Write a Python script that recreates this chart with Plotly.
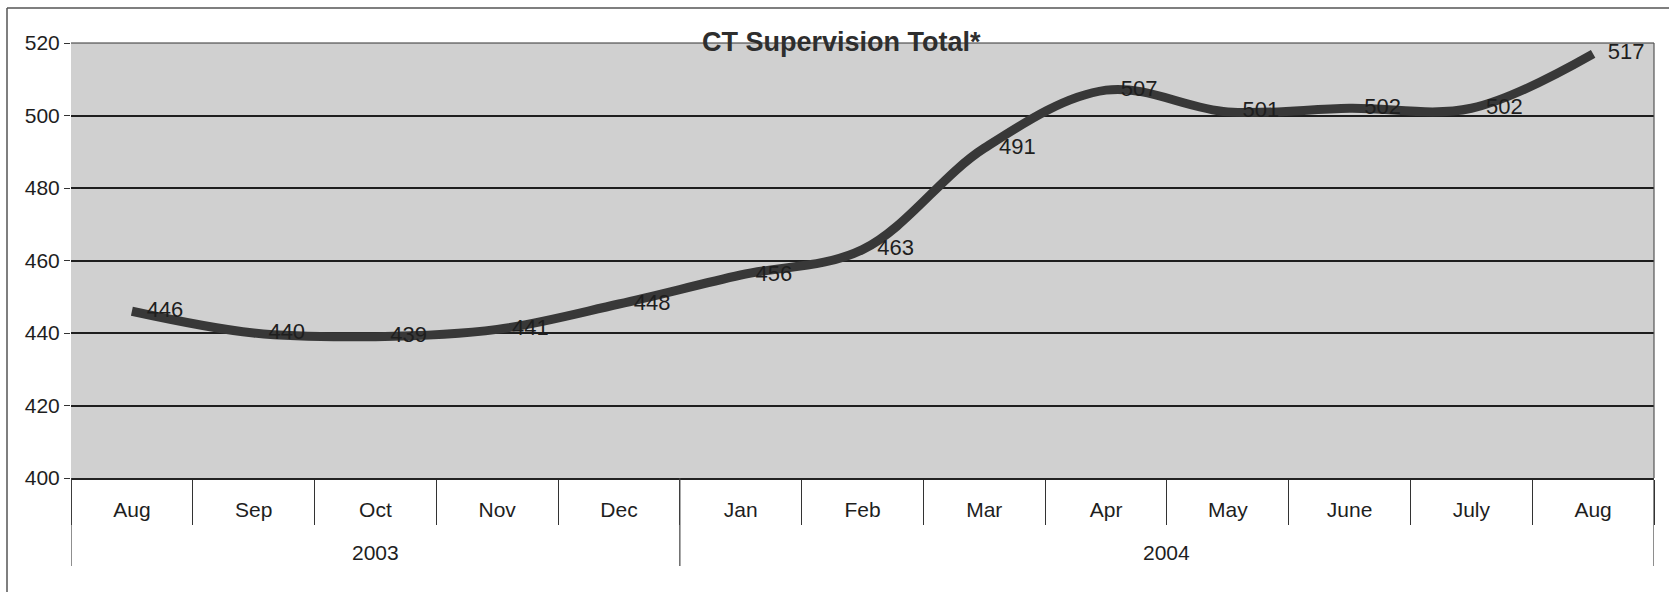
import plotly.graph_objects as go

months = ["Aug", "Sep", "Oct", "Nov", "Dec", "Jan", "Feb", "Mar", "Apr", "May", "June", "July", "Aug"]
years = ["2003", "2004"]
year_spans = [(0, 4), (5, 12)]
totals = [446, 440, 439, 441, 448, 456, 463, 491, 507, 501, 502, 502, 517]
y_ticks = [400, 420, 440, 460, 480, 500, 520]

W, H = 1669, 592
L, R, T, B = 71, 15, 43, 114
pw, ph = W - L - R, H - T - B

def px_x(p):
    return (p - L) / pw

def px_y(p):
    return (H - B - p) / ph

idx = list(range(len(months)))
bounds = [i - 0.5 for i in range(len(months) + 1)]

FONT = "Liberation Sans, Arial"
TXT = "#1e1e1e"

fig = go.Figure()
fig.add_trace(go.Scatter(
    x=idx,
    y=totals,
    mode="lines+markers+text",
    line=dict(color="#383838", width=9, shape="spline", smoothing=1.0),
    marker=dict(size=22, color="rgba(0,0,0,0)", line=dict(width=0)),
    text=[str(v) for v in totals],
    textposition="middle right",
    textfont=dict(family=FONT, size=22, color=TXT),
    cliponaxis=False,
    hoverinfo="skip",
    showlegend=False,
))

annotations = [dict(
    text="<b>CT Supervision Total*</b>",
    xref="paper", yref="paper",
    x=px_x(841), y=px_y(42),
    xanchor="center", yanchor="middle",
    showarrow=False,
    font=dict(family=FONT, size=27, color="#2e2e2e"),
)]
shapes = [
    dict(type="line", xref="paper", yref="paper",
         x0=px_x(7), x1=px_x(1669), y0=px_y(8), y1=px_y(8),
         line=dict(color="#555555", width=1.5)),
    dict(type="line", xref="paper", yref="paper",
         x0=px_x(7), x1=px_x(7), y0=px_y(8), y1=px_y(600),
         line=dict(color="#555555", width=1.5)),
    dict(type="line", xref="paper", yref="paper",
         x0=0, x1=1, y0=1, y1=1,
         line=dict(color="#333333", width=1.2)),
    dict(type="line", xref="paper", yref="paper",
         x0=1, x1=1, y0=0, y1=1,
         line=dict(color="#555555", width=1.2)),
]
for yr, (a, b) in zip(years, year_spans):
    annotations.append(dict(
        text=yr, xref="x", yref="paper",
        x=(a + b) / 2, y=px_y(552),
        xanchor="center", yanchor="middle", showarrow=False,
        font=dict(family=FONT, size=21, color=TXT),
    ))
for xb in [year_spans[0][0] - 0.5, year_spans[1][0] - 0.5, year_spans[1][1] + 0.5]:
    shapes.append(dict(type="line", xref="x", yref="paper",
                       x0=xb, x1=xb, y0=0, y1=px_y(566),
                       line=dict(color="#444444", width=1.2)))

fig.update_layout(
    width=W, height=H,
    margin=dict(l=L, r=R, t=T, b=B, autoexpand=False),
    paper_bgcolor="white",
    plot_bgcolor="#d0d0d0",
    font=dict(family=FONT, size=21, color=TXT),
    showlegend=False,
    annotations=annotations,
    shapes=shapes,
)

fig.update_xaxes(
    range=[-0.5, len(months) - 0.5],
    tickvals=idx, ticktext=months,
    ticks="", ticklabelstandoff=12,
    showgrid=False, zeroline=False,
    showline=True, linecolor="#222222", linewidth=2,
    tickfont=dict(family=FONT, size=21, color=TXT),
    minor=dict(tickvals=bounds, ticks="outside", ticklen=45,
               tickwidth=1.2, tickcolor="#333333", showgrid=False),
)
fig.update_yaxes(
    range=[400, 520],
    tickvals=y_ticks,
    showgrid=True, gridcolor="#1e1e1e", gridwidth=1.5,
    showline=False, zeroline=False,
    ticks="outside", ticklen=6, tickcolor="#333333", tickwidth=1.2,
    tickfont=dict(family=FONT, size=21, color=TXT),
)

fig.write_html(
    "out.html",
    config={"displayModeBar": False},
    post_script="document.body.style.margin='0';document.body.style.overflow='hidden';",
)
